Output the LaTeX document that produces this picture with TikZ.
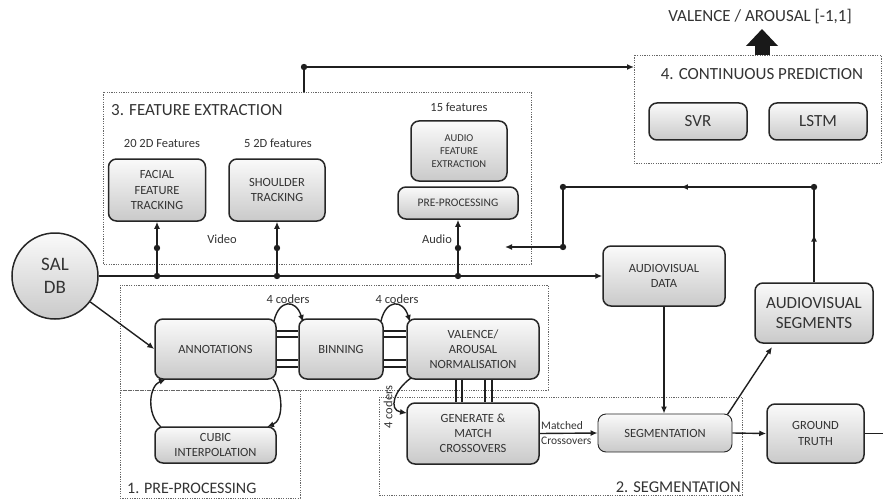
\documentclass[tikz,border=0pt]{standalone}
\usepackage{fontspec}
\setmainfont{Carlito}
\usetikzlibrary{arrows.meta,decorations.markings}
\begin{document}
\begin{tikzpicture}[x=1pt,y=-1pt,
 blk/.style={draw=black!85, line width=1.5pt, rounded corners=8pt, top color=gray!4, bottom color=gray!42, align=center, text=black!80, inner sep=0pt, font=\fontsize{12.5}{15.25}\selectfont},
 conn/.style={draw=black!88, line width=1.4pt},
 arr/.style={conn, -{Latex[length=7pt,width=6pt]}},
 grp/.style={draw=black!60, line width=0.8pt, dash pattern=on 1.2pt off 1.2pt},
 lbl/.style={text=black!80, inner sep=0pt, font=\fontsize{12.5}{15.25}\selectfont},
 ttl/.style={text=black!80, inner sep=0pt, font=\fontsize{17}{20}\selectfont},
 midarr/.style={postaction={decorate}, decoration={markings, mark=at position #1 with {\arrow{Latex[length=7pt,width=6pt]}}}},
]
\useasboundingbox (0,0) rectangle (883,500);

% group frames
\draw[grp] (634,55) rectangle (881,163);
\draw[grp] (103,92) rectangle (531,264);
\draw[grp] (120,285) rectangle (548,390);
\draw[grp] (120,390) rectangle (300,498);
\draw[grp] (379,397) rectangle (742,495);

% titles and labels
\node[ttl] (vtitle) at (760,17) {VALENCE / AROUSAL [-1,1]};
\node[ttl] (cptitle) at (762,74) {4. CONTINUOUS PREDICTION};
\node[ttl, anchor=west] (fetitle) at (111,110) {3. FEATURE EXTRACTION};
\node[ttl, anchor=west, font=\fontsize{16}{19}\selectfont] (pptitle) at (127,488) {1. PRE-PROCESSING};
\node[ttl, anchor=east, font=\fontsize{16.5}{19}\selectfont] (sgtitle) at (741,487) {2. SEGMENTATION};
\node[lbl] (l20) at (162,143) {20 2D Features};
\node[lbl] (l5) at (278,143) {5 2D features};
\node[lbl] (l15) at (459,107) {15 features};
\node[lbl] (lvideo) at (222,239) {Video};
\node[lbl] (laudio) at (437,239) {Audio};
\node[lbl] (lc1) at (288,299) {4 coders};
\node[lbl] (lc2) at (397,299) {4 coders};
\node[lbl, rotate=90] (lc3) at (388,407) {4 coders};
\node[lbl, anchor=west, align=left, font=\fontsize{11.5}{15}\selectfont] (lmatch) at (541,433.5) {Matched\\Crossovers};

% boxes
\node[blk, minimum width=98pt, minimum height=37pt, font=\fontsize{17}{20}\selectfont] (svr) at (698,121.5) {SVR};
\node[blk, minimum width=98pt, minimum height=37pt, font=\fontsize{17}{20}\selectfont] (lstm) at (818,121.5) {LSTM};
\node[blk, minimum width=97pt, minimum height=62pt] (facial) at (157,190) {FACIAL\\FEATURE\\TRACKING};
\node[blk, minimum width=96pt, minimum height=62pt] (shoulder) at (277,190) {SHOULDER\\TRACKING};
\node[blk, minimum width=96pt, minimum height=60pt, font=\fontsize{10.5}{13}\selectfont] (afe) at (459,151) {AUDIO\\FEATURE\\EXTRACTION};
\node[blk, minimum width=120pt, minimum height=32pt, font=\fontsize{11.5}{14}\selectfont] (pre) at (458,203) {PRE-PROCESSING};
\node[blk, circle, rounded corners=0pt, minimum size=86pt, font=\fontsize{19}{23}\selectfont] (sal) at (55,276) {SAL\\DB};
\node[blk, minimum width=122pt, minimum height=60pt] (avdata) at (664,276) {AUDIOVISUAL\\DATA};
\node[blk, minimum width=118pt, minimum height=60pt, font=\fontsize{17}{19.5}\selectfont] (avseg) at (814,313) {AUDIOVISUAL\\SEGMENTS};
\node[blk, minimum width=97pt, minimum height=59pt] (gt) at (815.5,433.5) {GROUND\\TRUTH};
\node[blk, line width=0.9pt, minimum width=134pt, minimum height=38pt] (seg) at (665,433) {SEGMENTATION};
\node[blk, minimum width=132pt, minimum height=61pt] (gen) at (473,433.5) {GENERATE \&\\MATCH\\CROSSOVERS};
\node[blk, minimum width=132pt, minimum height=60pt] (val) at (473,349) {VALENCE/\\AROUSAL\\NORMALISATION};
\node[blk, minimum width=121pt, minimum height=60pt] (annot) at (215.5,349) {ANNOTATIONS};
\node[blk, minimum width=84pt, minimum height=60pt] (bin) at (341,349) {BINNING};
\node[blk, minimum width=121pt, minimum height=36pt] (cubic) at (215.5,445) {CUBIC\\INTERPOLATION};

% output arrow
\coordinate (cptop) at (762,55);
\draw[black!90, line width=15pt, -{Triangle[width=31pt,length=17pt]}] (cptop) -- (762,29);

% feature extraction -> continuous prediction
\coordinate (fetop) at (304,92);
\coordinate (jtop) at (304,67);
\coordinate (cpin) at (634,67);
\draw[conn] (fetop) -- (jtop);
\draw[arr] (jtop) -- (cpin);
\fill[black!88] (jtop) circle (3.2pt);

% main data line
\coordinate (jf) at (157,276);
\coordinate (js) at (277,276);
\coordinate (ja) at (458,276);
\coordinate (jf2) at (157,248);
\coordinate (js2) at (277,248);
\coordinate (ja2) at (458,248);
\draw[arr] (sal.east) -- (avdata.west);
\draw[arr] (jf) -- (facial.south);
\draw[arr] (js) -- (shoulder.south);
\draw[arr] (ja) -- (pre.south);
\foreach \p in {jf,js,ja,jf2,js2,ja2} \fill[black!88] (\p) circle (3.2pt);

% feedback loop
\coordinate (l1) at (814,187);
\coordinate (l2) at (563,187);
\coordinate (l3) at (563,247);
\coordinate (l4) at (505,247);
\draw[conn, midarr=0.5] (avseg.north) -- (l1);
\draw[conn, midarr=0.53] (l1) -- (l2);
\draw[conn] (l2) -- (l3);
\draw[arr] (l3) -- (l4);
\foreach \p in {l1,l2,l3} \fill[black!88] (\p) circle (3.2pt);

% segmentation flow
\draw[arr] (avdata.south) -- (seg.north -| avdata.south);
\draw[arr] (gen.east) -- (seg.west);
\draw[arr] (seg.east) -- (gt.west);
\draw[arr] ([shift={(-5,1)}]seg.north east) -- (772,347);
\draw[conn] (gt.east) -- (883,433.5);

% SAL -> annotations
\draw[arr] (sal) -- (annot.west);

% parallel links
\foreach \y in {331,337,360,367} {
  \draw[conn, line width=1.2pt] (annot.east |- 0,\y) -- (bin.west |- 0,\y);
  \draw[conn, line width=1.2pt] (bin.east |- 0,\y) -- (val.west |- 0,\y);
}
\foreach \x in {456,462,485,492}
  \draw[conn, line width=1.2pt] (val.south -| \x,0) -- (gen.north -| \x,0);

% coder curves
\draw[arr] (274,321) .. controls (279,299) and (296,299) .. (303,322);
\draw[arr] (381,321) .. controls (386,299) and (403,299) .. (410,322);
\draw[arr] (411,378) .. controls (394,390) and (388,410) .. (407,413);
\draw[arr] (273,379) .. controls (283,392) and (284,420) .. (267,427);
\draw[arr] (161,427) .. controls (146,414) and (149,386) .. (166,379);
\end{tikzpicture}
\end{document}
